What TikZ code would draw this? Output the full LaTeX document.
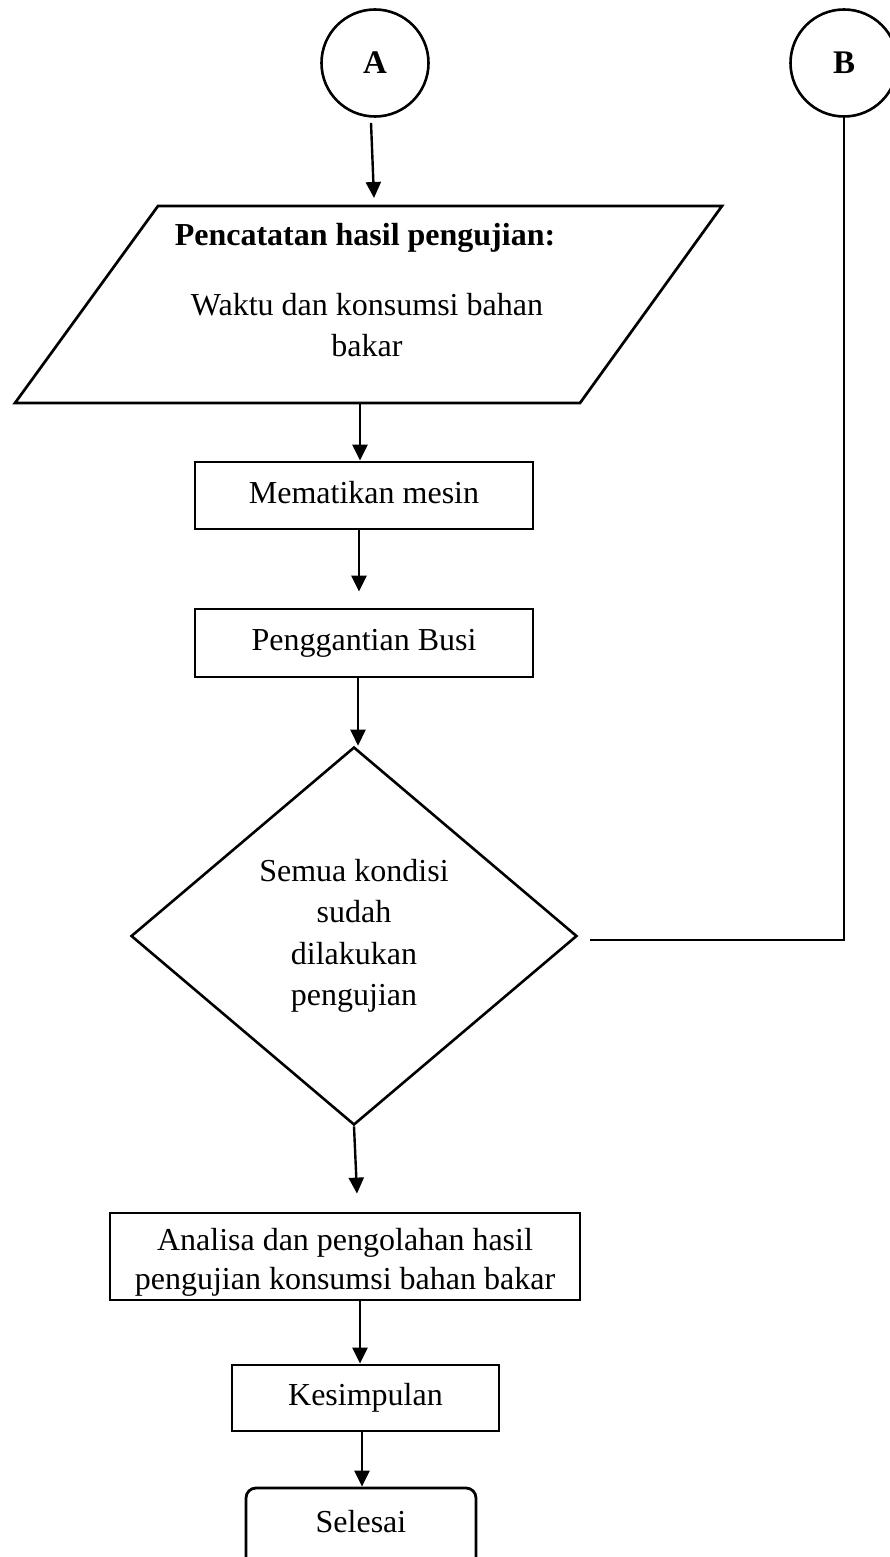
\documentclass[tikz,border=0pt]{standalone}
\usepackage{fontspec}
\setmainfont{Liberation Serif}
\usetikzlibrary{arrows.meta,shapes.geometric}
\begin{document}
\begin{tikzpicture}[x=1pt,y=-1pt,
  line width=2.7pt,
  every node/.style={font=\fontsize{32}{41}\selectfont, inner sep=0pt},
  box/.style={draw, rectangle, line width=2.8pt},
  oneline/.style={text height=22pt, text depth=7pt},
  conn/.style={circle, draw, line width=2.6pt, minimum size=107pt, font=\fontsize{33}{40}\selectfont\bfseries},
  decision/.style={draw, diamond, line width=2.6pt, minimum width=446pt, minimum height=378pt, align=center,
    font=\fontsize{32}{41.5}\selectfont},
  arr/.style={line width=2.4pt, -{Triangle[length=16pt,width=15pt]}},
  link/.style={line width=1.3pt},
]
\useasboundingbox (0,0) rectangle (889,1557);

% off-page connectors
\node[conn] (A) at (375,63) {A};
\node[conn] (B) at (844,63) {B};

% input/output parallelogram
\coordinate (p1) at (158,206);
\coordinate (p2) at (722,206);
\coordinate (p3) at (580,403);
\coordinate (p4) at (15,403);
\draw (p1) -- (p2) -- (p3) -- (p4) -- cycle;
\node[font=\fontsize{32}{41}\selectfont\bfseries] (ptitle) at (365,237.5) {Pencatatan hasil pengujian:};
\node[align=center] (pbody) at (367,325) {Waktu dan konsumsi bahan\\bakar};
\coordinate (pin) at (374,198);
\coordinate (pout) at (360,403);

% process steps
\node[box, oneline, minimum width=338pt, minimum height=67pt] (mesin) at (364,495.5) {Mematikan mesin};
\node[box, oneline, minimum width=338pt, minimum height=68pt] (busi) at (364,643) {Penggantian Busi};
\node[decision] (D) at (354,936) {Semua kondisi\\sudah\\dilakukan\\pengujian};
\node[box, align=center, minimum width=470pt, minimum height=87pt] (ana) at (345,1256.5)
  {\rule{0pt}{34pt}Analisa dan pengolahan hasil\\[-2pt]pengujian konsumsi bahan bakar};
\node[box, oneline, minimum width=267pt, minimum height=66pt] (kes) at (365.5,1398) {Kesimpulan};
\node[draw, line width=2.8pt, rounded corners=10pt, text height=21pt, text depth=22pt,
  minimum width=230pt, minimum height=90pt] (sel) at (361,1533) {Selesai};

% flow lines
\draw[arr] ([xshift=-4pt,yshift=-5pt]A.south) -- (pin);
\draw[arr] (pout) -- (pout |- mesin.north);
\draw[arr] ([xshift=-5pt]mesin.south) -- ([xshift=-5pt,yshift=16pt]busi.north);
\draw[arr] ([xshift=-6pt]busi.south) -- ([xshift=4pt]D.north);
\draw[arr] (D.south) -- ([xshift=12pt,yshift=18pt]ana.north);
\draw[arr] ([xshift=15pt]ana.south) -- ([xshift=15pt]ana.south |- kes.north);
\draw[arr] ([xshift=-3.5pt]kes.south) -- ([xshift=-3.5pt]kes.south |- sel.north);
\draw[link] ([xshift=12pt,yshift=-4pt]D.east) -| (B.south);
\end{tikzpicture}
\end{document}
